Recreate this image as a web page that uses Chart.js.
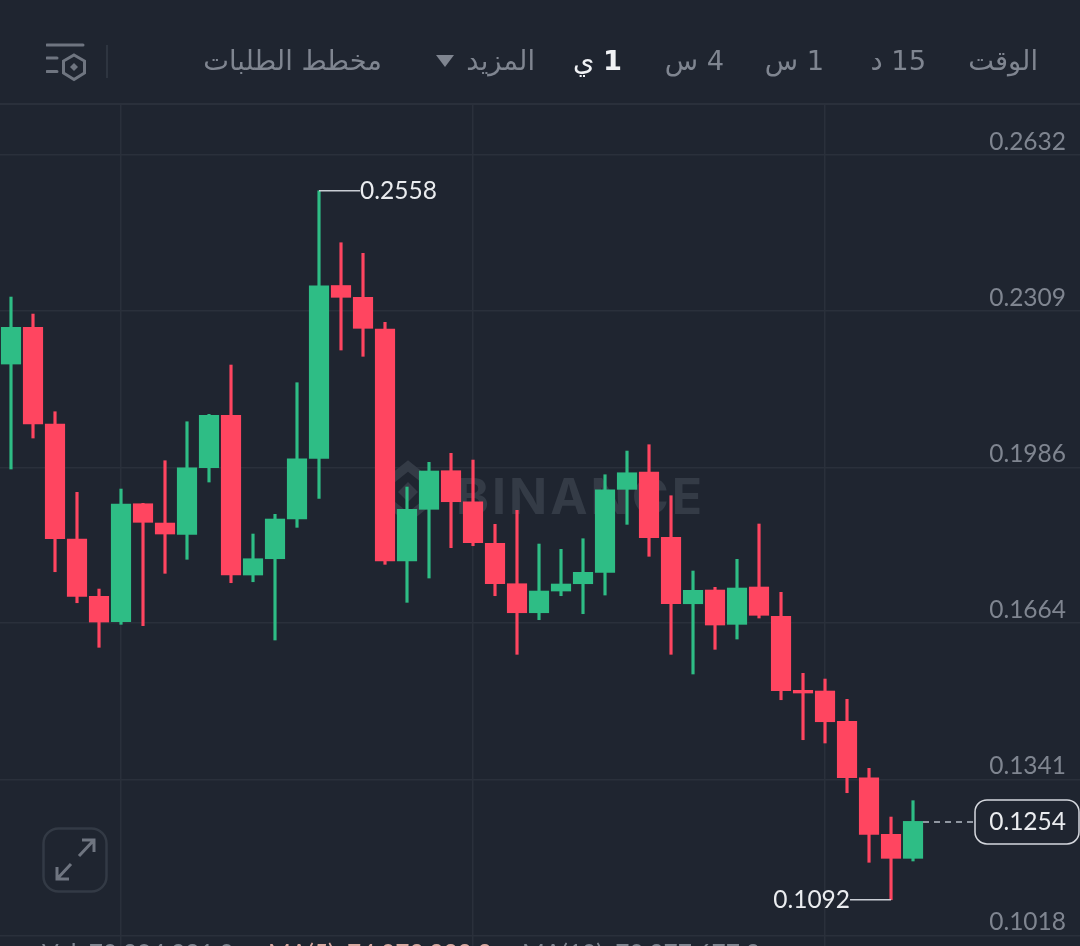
<!DOCTYPE html>
<html lang="ar">
<head>
<meta charset="utf-8">
<title>Candles</title>
<script src="https://cdn.jsdelivr.net/npm/chart.js@4"></script>
<style>
html,body{margin:0;padding:0;background:#1F2530;width:1080px;height:946px;overflow:hidden}
#wrap{position:relative;width:1080px;height:946px;overflow:hidden}
canvas{position:absolute;left:0;top:0}
.tab{position:absolute;top:41px;height:40px;line-height:40px;font-family:"DejaVu Sans",sans-serif;font-size:27.3px;font-weight:400;color:#7F8590;white-space:nowrap;direction:rtl}
.tab b{font-weight:700}
#sep{position:absolute;left:106px;top:45px;width:2px;height:33px;background:#2E3540}
#hline{position:absolute;left:0;top:103px;width:1080px;height:2px;background:#2A303B}
svg{position:absolute}
.foot{position:absolute;top:938px;font:24.5px Lato,sans-serif;color:#7F8590;white-space:pre}
</style>
</head>
<body>
<div id="wrap">
<canvas id="c" width="1080" height="946"></canvas>
<div id="hline"></div>
<div class="tab" style="right:42px">الوقت</div>
<div class="tab" style="right:154px">15 د</div>
<div class="tab" style="right:256px">1 س</div>
<div class="tab" style="right:356px">4 س</div>
<div class="tab" style="right:458px;color:#F0F2F5"><b>1</b> ي</div>
<div class="tab" style="right:545px">المزيد</div>
<svg style="left:434px;top:54px" width="22" height="14"><path d="M2 1H20L11 13Z" fill="#7F8590"/></svg>
<div class="tab" style="right:698px">مخطط الطلبات</div>
<div id="sep"></div>
<svg style="left:46px;top:42px" width="42" height="40" viewBox="0 0 42 40" fill="none" stroke="#6F7580">
<path d="M1 3H37M1 16H11M1 29.5H11" stroke-width="3" stroke-linecap="round"/>
<path d="M28 13L38.500 19V31L28 37.500L17.500 31V19Z" stroke-width="3"/>
<path d="M28 21L32 25L28 29L24 25Z" fill="#6F7580" stroke="none"/>
</svg>
<svg style="left:42px;top:827px" width="66" height="66" viewBox="0 0 66 66" fill="none">
<rect x="1.500" y="1.500" width="63" height="63" rx="15" stroke="#333A45" stroke-width="2.500"/>
<path d="M37 29L52 13M40 13H52V25M29 37L15 52M15 40V52H27" stroke="#6F7580" stroke-width="3"/>
</svg>
<div class="foot" style="left:42px">Vol: 70,394,321.0</div>
<div class="foot" style="left:268px;color:#D9A9A0">MA(5): 74,073,223.3</div>
<div class="foot" style="left:522px">MA(10): 70,377,677.3</div>
</div>
<script>
const priceTicks = [0.2632, 0.2309, 0.1986, 0.1664, 0.1341, 0.1018];
const timeGridAt = [5, 21, 37];
const opens = [0.21998,0.22758,0.20758,0.18379,0.17194,0.16669,0.19109,0.18710,0.18477,0.19854,0.20938,0.17635,0.17972,0.18793,0.20048,0.23622,0.23378,0.22722,0.17925,0.18994,0.19792,0.19151,0.18291,0.17455,0.16855,0.17304,0.17455,0.17691,0.19407,0.19765,0.18415,0.17041,0.17325,0.16615,0.17387,0.16781,0.15251,0.15236,0.14610,0.13443,0.12273,0.11776];
const highs = [0.23384,0.23032,0.21012,0.19345,0.17345,0.19413,0.19118,0.19999,0.20805,0.20958,0.21978,0.18483,0.18890,0.21612,0.2558,0.24507,0.24288,0.22861,0.19455,0.19966,0.20152,0.20013,0.18683,0.18973,0.18276,0.18166,0.18386,0.19709,0.20199,0.20330,0.19275,0.17718,0.17381,0.17960,0.18690,0.17277,0.15602,0.15484,0.15064,0.13637,0.12630,0.12968];
const lows = [0.19827,0.20468,0.17703,0.17062,0.16140,0.16615,0.16587,0.17670,0.17960,0.19558,0.17476,0.17496,0.16291,0.18621,0.19221,0.22288,0.22158,0.17856,0.17070,0.17573,0.18200,0.18241,0.17207,0.15995,0.16711,0.17207,0.16835,0.17221,0.18683,0.18022,0.15995,0.15588,0.16098,0.16311,0.16746,0.15056,0.14229,0.14161,0.13133,0.11694,0.1092,0.11721];
const closes = [0.22758,0.20758,0.18386,0.17194,0.16663,0.19103,0.18725,0.18483,0.19854,0.20938,0.17635,0.17972,0.18793,0.20040,0.23618,0.23378,0.22737,0.17925,0.18994,0.19786,0.19151,0.18303,0.17455,0.16855,0.17304,0.17449,0.17691,0.19399,0.19750,0.18406,0.17041,0.17319,0.16601,0.17366,0.16802,0.15242,0.15195,0.14601,0.13443,0.12273,0.11776,0.1254];
const highLabel = 0.2558, lowLabel = 0.1092, lastPrice = 0.1254;
const UP = '#2EBD85', DOWN = '#FF4560';
const NUM_FONT = 'Lato, sans-serif';
const colors = closes.map((c, i) => c >= opens[i] ? UP : DOWN);

const overlay = {
  id: 'overlay',
  beforeDatasetsDraw(chart) {
    const ctx = chart.ctx;
    ctx.save();
    ctx.fillStyle = '#343B46';
    ctx.font = '700 50px Inter, sans-serif';
    ctx.letterSpacing = '3px';
    ctx.textBaseline = 'alphabetic';
    ctx.textAlign = 'left';
    ctx.fillText('BINANCE', 456, 514);
    ctx.letterSpacing = '0px';
    ctx.strokeStyle = '#343B46';
    ctx.lineWidth = 9;
    ctx.beginPath();
    ctx.moveTo(388, 482); ctx.lineTo(408, 466); ctx.lineTo(428, 482);
    ctx.moveTo(388, 502); ctx.lineTo(408, 518); ctx.lineTo(428, 502);
    ctx.stroke();
    ctx.fillStyle = '#343B46';
    ctx.beginPath();
    ctx.moveTo(408, 482); ctx.lineTo(418, 492); ctx.lineTo(408, 502); ctx.lineTo(398, 492);
    ctx.fill();
    ctx.restore();
  },
  afterDatasetsDraw(chart) {
    const ctx = chart.ctx, x = chart.scales.x, y = chart.scales.y;
    ctx.save();
    ctx.font = '24.5px ' + NUM_FONT;
    ctx.textBaseline = 'middle';
    // high marker
    const hi = highs.indexOf(Math.max(...highs));
    const hx = x.getPixelForValue(hi), hy = y.getPixelForValue(highLabel);
    ctx.strokeStyle = '#C9CDD4'; ctx.lineWidth = 1.5;
    ctx.beginPath(); ctx.moveTo(hx, hy); ctx.lineTo(hx + 41, hy); ctx.stroke();
    ctx.fillStyle = '#EAECEF'; ctx.textAlign = 'left';
    ctx.fillText(highLabel.toFixed(4), hx + 41, hy);
    // low marker
    const lo = lows.indexOf(Math.min(...lows));
    const lx = x.getPixelForValue(lo), ly = y.getPixelForValue(lowLabel);
    ctx.beginPath(); ctx.moveTo(lx, ly); ctx.lineTo(lx - 41, ly); ctx.stroke();
    ctx.textAlign = 'right';
    ctx.fillText(lowLabel.toFixed(4), lx - 41, ly);
    // last price
    const px = y.getPixelForValue(lastPrice) + 0.5, cx = x.getPixelForValue(closes.length - 1);
    ctx.setLineDash([6, 5]);
    ctx.strokeStyle = '#B7BDC6';
    ctx.beginPath(); ctx.moveTo(cx + 10, px); ctx.lineTo(974, px); ctx.stroke();
    ctx.setLineDash([]);
    ctx.beginPath(); ctx.roundRect(975, px - 22, 104, 44, 12);
    ctx.fillStyle = '#1F2530'; ctx.fill();
    ctx.strokeStyle = '#D5D8DE'; ctx.lineWidth = 1.5; ctx.stroke();
    ctx.fillStyle = '#EAECEF';
    ctx.fillText(lastPrice.toFixed(4), 1066, px);
    ctx.restore();
  }
};

new Chart(document.getElementById('c'), {
  type: 'bar',
  data: {
    datasets: [
      { data: opens.map((o, i) => ({ x: i, y: [o, closes[i]] })), backgroundColor: colors, barThickness: 19.5, grouped: false },
      { data: lows.map((l, i) => ({ x: i, y: [l, highs[i]] })), backgroundColor: colors, barThickness: 2.5, grouped: false }
    ]
  },
  options: {
    responsive: false,
    animation: false,
    events: [],
    layout: { padding: { top: 104, left: 0, right: 0, bottom: 0 } },
    plugins: { legend: { display: false }, tooltip: { enabled: false } },
    scales: {
      x: {
        type: 'linear', offset: false, min: -0.5, max: 48.59,
        border: { display: false },
        grid: { color: '#2A303B', lineWidth: 1.5, drawTicks: false, tickLength: 0, offset: false },
        ticks: { display: false },
        afterBuildTicks: s => { s.ticks = timeGridAt.map(v => ({ value: v })); },
        afterFit: s => { s.height = 0; s.paddingLeft = 0; s.paddingRight = 0; }
      },
      y: {
        position: 'right', min: 0.09963, max: 0.27376,
        border: { display: false },
        grid: { color: '#2A303B', lineWidth: 1.5, drawTicks: false, tickLength: 0 },
        afterBuildTicks: s => { s.ticks = priceTicks.map(v => ({ value: v })); },
        afterFit: s => { s.width = 0; s.paddingTop = 0; s.paddingBottom = 0; },
        ticks: {
          mirror: true, padding: -14, labelOffset: -13, color: '#7F8590',
          font: { family: NUM_FONT, size: 24.5 },
          callback: v => Number(v).toFixed(4)
        }
      }
    }
  },
  plugins: [overlay]
});
</script>
</body>
</html>
